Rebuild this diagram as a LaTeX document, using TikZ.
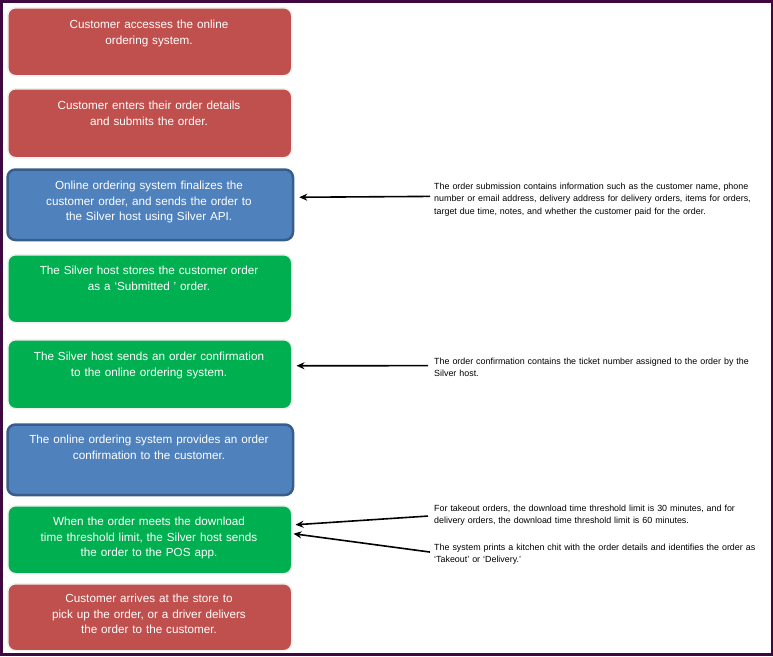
\documentclass[tikz,border=0pt]{standalone}
\usepackage{fontspec}
\setmainfont{Liberation Sans}
\usetikzlibrary{arrows.meta}
\definecolor{frame}{RGB}{64,8,64}
\definecolor{redbox}{RGB}{192,80,77}
\definecolor{bluebox}{RGB}{79,129,189}
\definecolor{blueedge}{RGB}{56,93,138}
\definecolor{greenbox}{RGB}{0,176,80}
\tikzset{
  box/.style={rectangle, rounded corners=8pt, inner sep=0pt, anchor=north west,
    draw=gray!12, line width=1.5pt, minimum width=284pt},
  redstep/.style={box, fill=redbox},
  greenstep/.style={box, fill=greenbox},
  bluestep/.style={box, fill=bluebox, draw=blueedge, line width=2.5pt,
    minimum width=285.5pt, minimum height=70.5pt},
  boxtext/.style={anchor=base, inner sep=0pt, text width=284pt, align=center, text=white,
    font=\fontsize{11.7}{15.5}\selectfont},
  note/.style={anchor=base west, inner sep=0pt, text width=340pt, align=left, text=black,
    font=\fontsize{8.9}{12.7}\selectfont},
  arr/.style={-{Stealth[length=8pt,width=7pt]}, line width=1.6pt, black},
}
\begin{document}
\begin{tikzpicture}[x=1pt,y=-1pt]
\useasboundingbox (0,0) rectangle (773,656);
\draw[frame, line width=2.5pt] (1.25,1.25) rectangle (771.75,654.5);

% boxes
\node[redstep, minimum height=68pt]   (b1) at (7,7) {};
\node[redstep, minimum height=69pt]   (b2) at (7,88) {};
\node[bluestep]                       (b3) at (6.25,168.25) {};
\node[greenstep, minimum height=68pt] (b4) at (7,254) {};
\node[greenstep, minimum height=69pt] (b5) at (7,339) {};
\node[bluestep]                       (b6) at (6.25,423.25) {};
\node[greenstep, minimum height=68pt] (b7) at (7,505) {};
\node[redstep, minimum height=67pt]   (b8) at (7,583) {};

% box texts
\node[boxtext] (t1) at (149,28.5) {Customer accesses the online\\ordering system.};
\node[boxtext] (t2) at (149,109.5) {Customer enters their order details\\and submits the order.};
\node[boxtext] (t3) at (149,189.5) {Online ordering system finalizes the\\customer order, and sends the order to\\the Silver host using Silver API.};
\node[boxtext] (t4) at (149,274.5) {The Silver host stores the customer order\\as a `Submitted ' order.};
\node[boxtext] (t5) at (149,360.5) {The Silver host sends an order confirmation\\to the online ordering system.};
\node[boxtext] (t6) at (149,443.5) {The online ordering system provides an order\\confirmation to the customer.};
\node[boxtext] (t7) at (149,525.5) {When the order meets the download\\time threshold limit, the Silver host sends\\the order to the POS app.};
\node[boxtext] (t8) at (149,602.5) {Customer arrives at the store to\\pick up the order, or a driver delivers\\the order to the customer.};

% notes
\node[note] (n1) at (434,189) {The order submission contains information such as the customer name, phone\\number or email address, delivery address for delivery orders, items for orders,\\target due time, notes, and whether the customer paid for the order.};
\node[note] (n2) at (434,364) {The order confirmation contains the ticket number assigned to the order by the\\Silver host.};
\node[note] (n3) at (434,511) {For takeout orders, the download time threshold limit is 30 minutes, and for\\delivery orders, the download time threshold limit is 60 minutes.};
\node[note] (n4) at (434,550) {The system prints a kitchen chit with the order details and identifies the order as\\`Takeout' or `Delivery.'};

% connectors
\draw[arr] ([xshift=-4pt,yshift=3pt]n1.west) -- ([xshift=5pt,yshift=7.5pt]b3.east);
\draw[arr] ([xshift=-6pt,yshift=1.5pt]n2.west) -- ([xshift=4pt,yshift=8.5pt]b5.east);
\draw[arr] ([xshift=-6pt,yshift=-1pt]n3.west) -- ([xshift=3pt,yshift=15pt]b7.east);
\draw[arr] ([xshift=-4pt,yshift=2pt]n4.west) -- ([xshift=1pt,yshift=6pt]b7.east);
\end{tikzpicture}
\end{document}
